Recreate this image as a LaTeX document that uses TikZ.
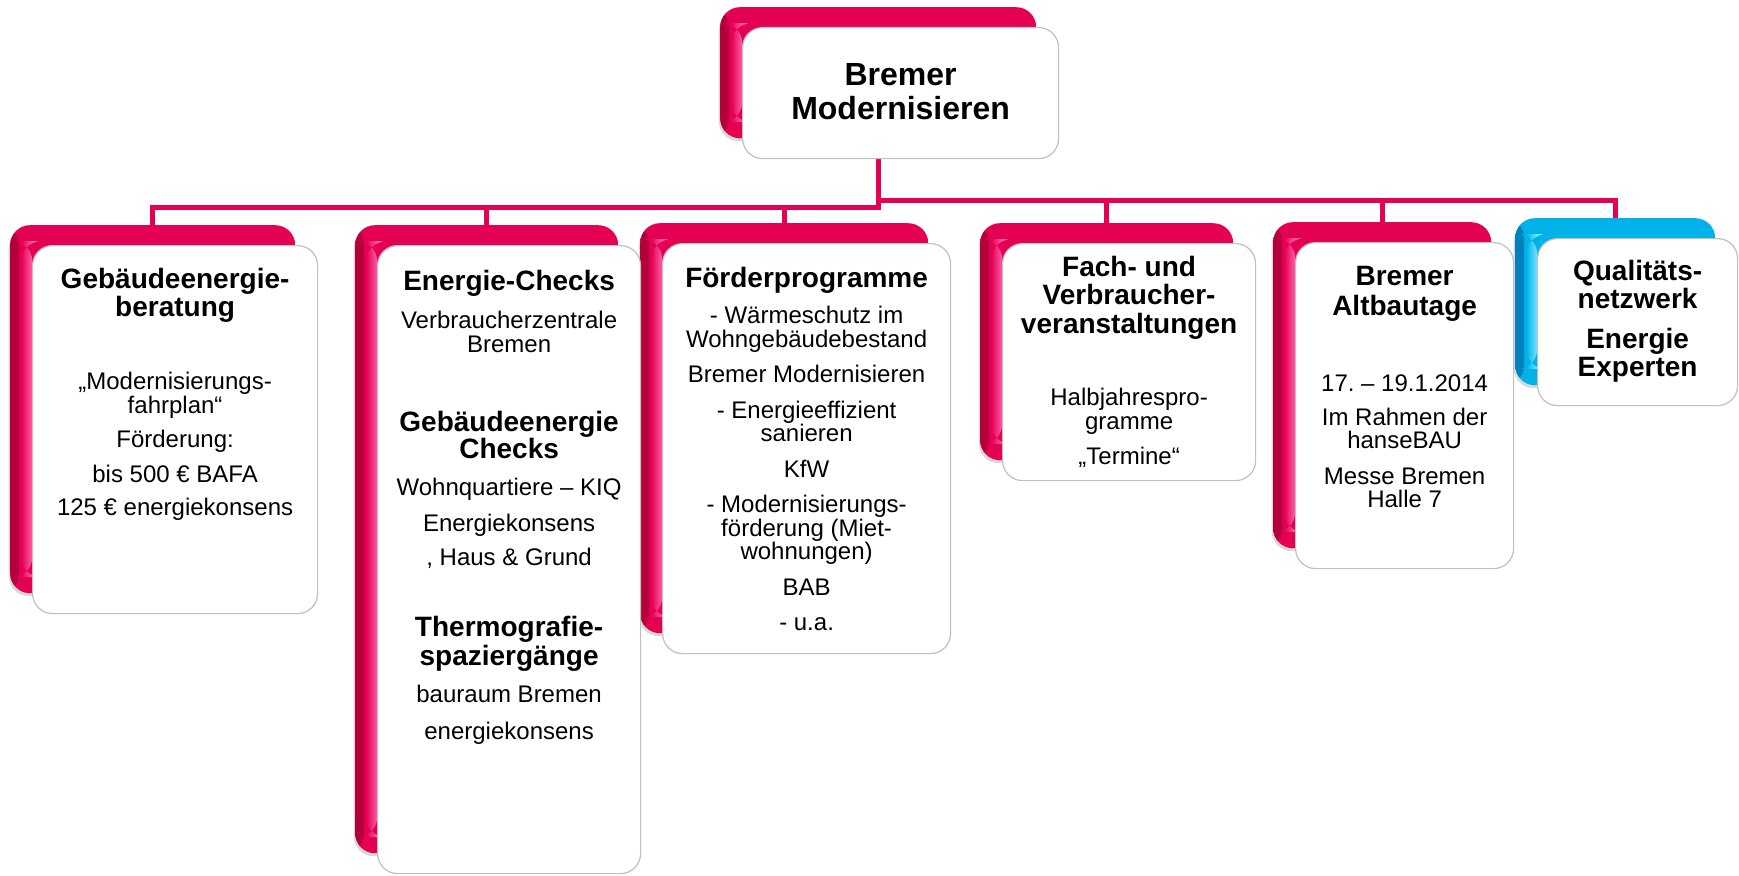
\documentclass[tikz,border=0pt]{standalone}
\usepackage{fontspec}
\setmainfont{Liberation Sans}
\usetikzlibrary{positioning,shadows}
\frenchspacing

\definecolor{bmpink}{RGB}{228,0,82}
\definecolor{bmpinklight}{RGB}{255,95,170}
\definecolor{bmpinkdark}{RGB}{180,0,58}
\definecolor{bmblue}{RGB}{0,178,232}
\definecolor{bmbluelight}{RGB}{120,228,255}
\definecolor{bmbluedark}{RGB}{0,128,188}
\definecolor{cardline}{RGB}{192,192,192}

\newcommand{\topfont}{\fontsize{32}{34}\selectfont\bfseries}
\newcommand{\ttlfont}{\fontsize{28}{28}\selectfont\bfseries}
\newcommand{\txtfont}{\fontsize{24}{23.5}\selectfont}

\tikzset{
  back/.style={rectangle, rounded corners=20pt, inner sep=0pt, anchor=north west, fill=bm#1,
    drop shadow={shadow xshift=-1.5pt, shadow yshift=-3pt, opacity=.3},
    path picture={
      \shade[left color=bm#1dark, right color=bm#1]
        (path picture bounding box.north west) rectangle ([xshift=9pt]path picture bounding box.south west);
      \shade[left color=bm#1, right color=bm#1light]
        ([xshift=11pt,yshift=-16pt]path picture bounding box.north west) rectangle ([xshift=22pt,yshift=16pt]path picture bounding box.south west);
    }},
  card/.style={rectangle, rounded corners=20pt, draw=cardline, line width=1.2pt, fill=white, inner sep=0pt, anchor=north west},
  link/.style={draw=bmpink, line width=5pt},
  ttl/.style={font=\ttlfont, align=center, anchor=north, inner sep=0pt},
  txt/.style={font=\txtfont, align=center, anchor=north, inner sep=0pt},
}

\begin{document}
\begin{tikzpicture}[x=1pt,y=-1pt]
  \useasboundingbox (0,0) rectangle (1739,875);

  % coloured cards behind
  \node[back=pink, minimum width=316pt, minimum height=131pt] (b0) at (720,7) {};
  \node[back=pink, minimum width=285pt, minimum height=368pt] (b1) at (10,225) {};
  \node[back=pink, minimum width=263pt, minimum height=628pt] (b2) at (355,225) {};
  \node[back=pink, minimum width=288pt, minimum height=410pt] (b3) at (640,223) {};
  \node[back=pink, minimum width=253pt, minimum height=237pt] (b4) at (980,223) {};
  \node[back=pink, minimum width=218pt, minimum height=326pt] (b5) at (1273,222) {};
  \node[back=blue, minimum width=200pt, minimum height=167pt] (b6) at (1515,218) {};

  % connectors
  \coordinate (busL) at (0,207);
  \coordinate (busR) at (0,200);
  \foreach \n in {1,2,3}
    \draw[link] (b0.south) |- (b\n.north |- busL) -- (b\n.north);
  \foreach \n in {4,5,6}
    \draw[link] (b0.south) |- (b\n.north |- busR) -- (b\n.north);

  % white cards
  \node[card, minimum width=316pt, minimum height=131pt] (f0) at ([shift={(22pt,-20pt)}]b0.north west) {};
  \node[card, minimum width=285pt, minimum height=368pt] (f1) at ([shift={(22pt,-20pt)}]b1.north west) {};
  \node[card, minimum width=263pt, minimum height=628pt] (f2) at ([shift={(22pt,-20pt)}]b2.north west) {};
  \node[card, minimum width=288pt, minimum height=410pt] (f3) at ([shift={(22pt,-20pt)}]b3.north west) {};
  \node[card, minimum width=253pt, minimum height=237pt] (f4) at ([shift={(22pt,-20pt)}]b4.north west) {};
  \node[card, minimum width=218pt, minimum height=326pt] (f5) at ([shift={(22pt,-20pt)}]b5.north west) {};
  \node[card, minimum width=200pt, minimum height=167pt] (f6) at ([shift={(22pt,-20pt)}]b6.north west) {};

  % texts
  \node[font=\topfont, align=center, anchor=north, inner sep=0pt] (t0) at ([yshift=-36pt]f0.north) {Bremer\\Modernisieren};

  \node[ttl] (t1) at ([yshift=-23pt]f1.north) {Gebäudeenergie-\\beratung};
  \node[txt] (x1) at ([yshift=-127pt]f1.north) {„Modernisierungs-\\fahrplan“\\[11pt]Förderung:\\[11pt]bis 500 € BAFA\\[10pt]125 € energiekonsens};

  \node[ttl] (t2a) at ([yshift=-25pt]f2.north) {Energie-Checks};
  \node[txt] (x2a) at ([yshift=-66pt]f2.north) {Verbraucherzentrale\\Bremen};
  \node[ttl, font=\fontsize{28}{27}\selectfont\bfseries] (t2b) at ([yshift=-166pt]f2.north) {Gebäudeenergie\\Checks};
  \node[txt] (x2b) at ([yshift=-233pt]f2.north) {Wohnquartiere – KIQ\\[12pt]Energiekonsens\\[11pt], Haus \& Grund};
  \node[ttl, font=\fontsize{28}{29}\selectfont\bfseries] (t2c) at ([yshift=-371pt]f2.north) {Thermografie-\\spaziergänge};
  \node[txt] (x2c) at ([yshift=-440pt]f2.north) {bauraum Bremen\\[13pt]energiekonsens};

  \node[ttl] (t3) at ([yshift=-24pt]f3.north) {Förderprogramme};
  \node[txt] (x3) at ([yshift=-63pt]f3.north) {- Wärmeschutz im\\Wohngebäudebestand\\[12pt]Bremer Modernisieren\\[12pt]- Energieeffizient\\sanieren\\[12pt]KfW\\[12pt]- Modernisierungs-\\förderung (Miet-\\wohnungen)\\[12pt]BAB\\[12pt]- u.a.};

  \node[ttl, font=\fontsize{28}{28.5}\selectfont\bfseries] (t4) at ([yshift=-13pt]f4.north) {Fach- und\\Verbraucher-\\veranstaltungen};
  \node[txt] (x4) at ([yshift=-145pt]f4.north) {Halbjahrespro-\\gramme\\[12pt]„Termine“};

  \node[ttl, font=\fontsize{28}{30}\selectfont\bfseries] (t5) at ([yshift=-24pt]f5.north) {Bremer\\Altbautage};
  \node[txt] (x5) at ([yshift=-133pt]f5.north) {17. – 19.1.2014\\[10pt]Im Rahmen der\\hanseBAU\\[12pt]Messe Bremen\\Halle 7};

  \node[ttl] (t6) at ([yshift=-22pt]f6.north) {Qualitäts-\\netzwerk\\[12pt]Energie\\Experten};
\end{tikzpicture}
\end{document}
